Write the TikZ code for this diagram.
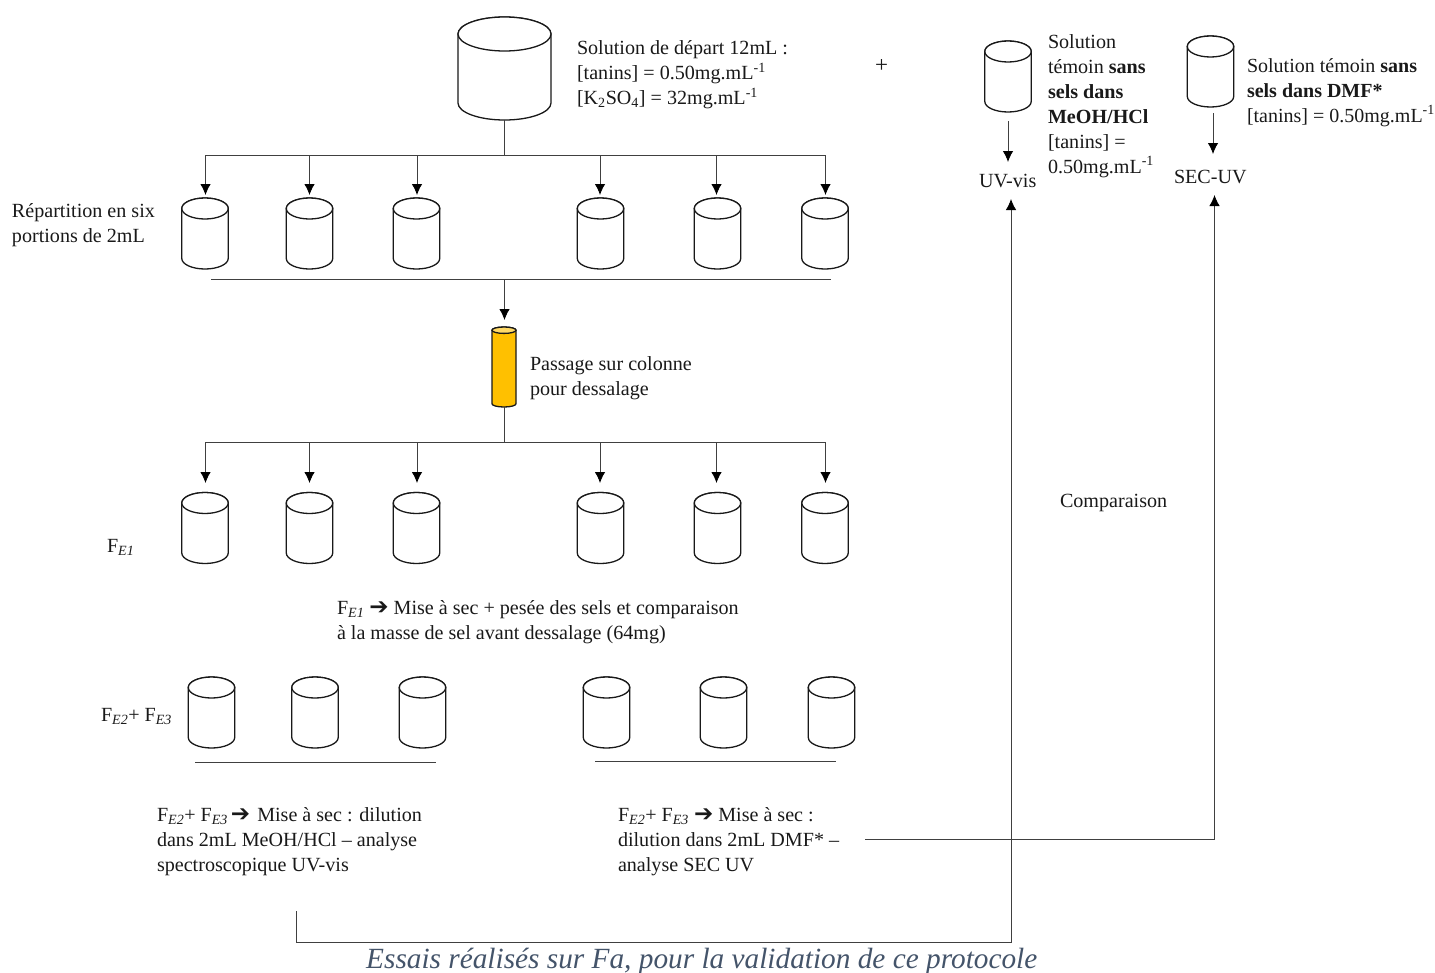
\documentclass[tikz,border=0pt]{standalone}
\usepackage{fontspec}
\setmainfont{Liberation Serif}
\newfontfamily\arrowfont{DejaVu Sans}
\usetikzlibrary{arrows.meta,calc}
\newcommand{\Fsub}[1]{F\textsubscript{\textit{#1}}}
\newcommand{\Rarr}{{\arrowfont\bfseries\fontsize{23}{23}\selectfont ➔}}
\definecolor{titleblue}{HTML}{44546A}
\definecolor{colfill}{HTML}{FFC000}
\definecolor{coltop}{HTML}{FFD966}
% \flask{name}{cx}{cy}{half width}{half height}{ellipse ry}{body fill}{top fill}
\newcommand{\flask}[8]{%
 \node[flaskbox,minimum width=2*#4 pt,minimum height=2*#5 pt] (#1) at (#2,#3) {};
 \begin{scope}[shift={(#2,#3)},x=1pt,y=1pt]
  \path[fill=#7,flaskline] (-#4,{#5-#6}) -- (-#4,{-(#5-#6)}) arc[start angle=180,end angle=360,x radius=#4,y radius=#6] -- (#4,{#5-#6}) arc[start angle=0,end angle=180,x radius=#4,y radius=#6] -- cycle;
  \path[fill=#8,flaskline] (0,{#5-#6}) ellipse[x radius=#4,y radius=#6];
 \end{scope}}
\tikzset{
 flaskbox/.style={inner sep=0pt,outer sep=0pt,draw=none},
 flaskline/.style={draw=black!90,line width=1.3pt},
 txt/.style={inner sep=0pt,outer sep=0pt,align=left,font=\fontsize{20.1}{25}\selectfont,text=black!90},
 conn/.style={draw=black!75,line width=0.9pt},
 arr/.style={conn,-{Latex[length=11pt,width=10.5pt,black]}},
}
\begin{document}
\begin{tikzpicture}[x=1pt,y=-1pt]
\useasboundingbox (0,0) rectangle (1435,972);
% flasks
\flask{start}{504.5}{68.5}{46.5}{51.5}{17}{white}{white}
\foreach \n/\x in {a/205,b/309.5,c/416.5,d/600.5,e/717.5,f/825}{
 \flask{r1\n}{\x}{233.5}{23.2}{35.5}{10.5}{white}{white}
 \flask{r2\n}{\x}{528}{23.2}{35.5}{10.5}{white}{white}
}
\foreach \n/\x in {a/211.5,b/315,c/422.5,d/606.5,e/723.5,f/831.5}{
 \flask{r3\n}{\x}{712.5}{23.2}{35.5}{10.5}{white}{white}
}
\flask{t1}{1008}{76.5}{23.2}{35.5}{10.5}{white}{white}
\flask{t2}{1210.5}{71.5}{23.2}{35.5}{10.5}{white}{white}
\flask{col}{504}{367}{12}{40}{3.2}{colfill}{coltop}
% texts
\node[txt,anchor=west] (tstart) at (577,75) {Solution de départ 12mL :\\{}[tanins] = 0.50mg.mL\textsuperscript{-1}\\{}[K\textsubscript{2}SO\textsubscript{4}] = 32mg.mL\textsuperscript{-1}};
\node[txt,anchor=base west,font=\fontsize{23}{25}\selectfont] (plus) at (875,72) {+};
\node[txt,anchor=west] (tt1) at (1048,106) {Solution\\témoin \textbf{sans}\\\textbf{sels dans}\\\textbf{MeOH/HCl}\\{}[tanins] =\\0.50mg.mL\textsuperscript{-1}};
\node[txt,anchor=west,font=\fontsize{20}{25}\selectfont] (tt2) at (1247,92.5) {Solution témoin \textbf{sans}\\\textbf{sels dans DMF*}\\{}[tanins] = 0.50mg.mL\textsuperscript{-1}};
\node[txt,anchor=base west] (uv) at (979,187) {UV-vis};
\node[txt,anchor=base west] (sec) at (1174,183) {SEC-UV};
\node[txt,anchor=west] (rep) at (12,225) {Répartition en six\\portions de 2mL};
\node[txt,anchor=west] (pass) at (530,378) {Passage sur colonne\\pour dessalage};
\node[txt,anchor=base west] (fe1) at (107,552) {\Fsub{E1}};
\node[txt,anchor=base west] (comp) at (1060,507) {Comparaison};
\node[txt,anchor=west] (tfe1) at (337,622) {\Fsub{E1} \Rarr{} Mise à sec + pesée des sels et comparaison\\à la masse de sel avant dessalage (64mg)};
\node[txt,anchor=base west] (fe23) at (101,721) {\Fsub{E2}+ \Fsub{E3}};
\node[txt,anchor=west] (tl) at (157,842) {\Fsub{E2}+ \Fsub{E3}\hspace{3pt}\Rarr{}\hspace{2pt} Mise à sec : dilution\\dans 2mL MeOH/HCl – analyse\\spectroscopique UV-vis};
\node[txt,anchor=west] (tr) at (618,842) {\Fsub{E2}+ \Fsub{E3} \Rarr{} Mise à sec :\\dilution dans 2mL DMF* –\\analyse SEC UV};
\node[inner sep=0pt,anchor=base west,font=\fontsize{29.3}{30}\selectfont\itshape,text=titleblue] (titre) at (366,968) {Essais réalisés sur Fa, pour la validation de ce protocole};
% connector coordinates
\coordinate (h1l) at (205.5,155); \coordinate (h1r) at (825.5,155);
\coordinate (h1m) at (start.south |- h1l);
\coordinate (b1l) at (211,279.5); \coordinate (b1r) at (831,279.5);
\coordinate (b1m) at (504.5,279.5);
\coordinate (h2l) at (205.5,442); \coordinate (h2r) at (825.5,442);
\coordinate (colb) at (504.5,407);
\coordinate (h2m) at (504.5,442);
\coordinate (b3l) at (195,762.5); \coordinate (b3r) at (436,762.5);
\coordinate (b4l) at (595,761); \coordinate (b4r) at (836,761);
\coordinate (uvs) at (296,911); \coordinate (uvc) at (296,942); \coordinate (uvd) at (1011,942); \coordinate (uve) at (1011,199);
\coordinate (secs) at (865,839); \coordinate (secd) at (1214.5,839); \coordinate (sece) at (1214.5,195);
\coordinate (colin) at (504.5,320);
\coordinate (t1a) at (1008,121); \coordinate (t1b) at (1008,162);
\coordinate (t2a) at (1213,113); \coordinate (t2b) at (1213,154);
% connectors
\draw[conn] (start.south) -- (h1m);
\draw[conn] (h1l) -- (h1r);
\foreach \x/\n in {205.5/a,309.5/b,417/c,600/d,716.5/e,825.5/f}{
 \draw[arr] (\x,155) -- (\x,195);
 \draw[arr] (\x,442) -- (\x,483);
}
\draw[conn] (b1l) -- (b1r);
\draw[arr] (b1m) -- (colin);
\draw[conn] (colb) -- (h2m);
\draw[conn] (h2l) -- (h2r);
\draw[conn] (b3l) -- (b3r);
\draw[conn] (b4l) -- (b4r);
\draw[arr] (t1a) -- (t1b);
\draw[arr] (t2a) -- (t2b);
\draw[arr] (uvs) -- (uvc) -- (uvd) -- (uve);
\draw[arr] (secs) -- (secd) -- (sece);
\end{tikzpicture}
\end{document}
